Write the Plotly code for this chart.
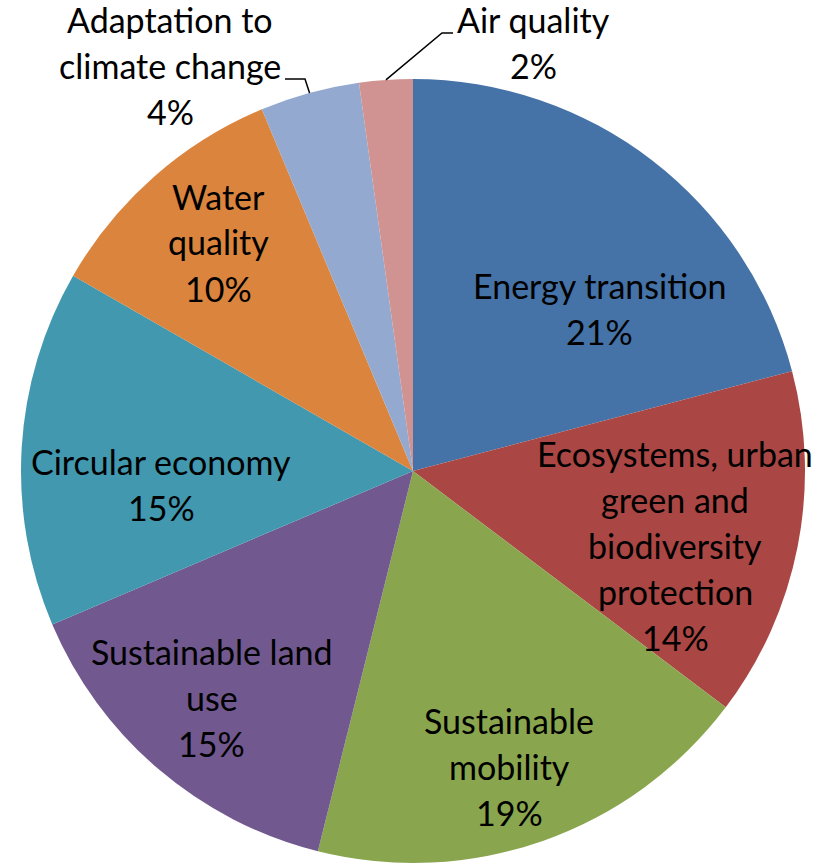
import math
import plotly.graph_objects as go

# ---------------- data ----------------
categories = ["Energy transition", "Ecosystems, urban green and biodiversity protection",
              "Sustainable mobility", "Sustainable land use", "Circular economy",
              "Water quality", "Adaptation to climate change", "Air quality"]
values = [20.9, 14.4, 18.6, 14.7, 14.7, 10.4, 4.1, 2.2]
label_lines = [["Energy transition"],
               ["Ecosystems, urban", "green and", "biodiversity", "protection"],
               ["Sustainable", "mobility"],
               ["Sustainable land", "use"],
               ["Circular economy"],
               ["Water", "quality"],
               ["Adaptation to", "climate change"],
               ["Air quality"]]

# ---------------- styles / layout ----------------
colors = ["#4572A7", "#AA4643", "#89A54E", "#71588F", "#4198AF", "#DB843D", "#93A9CF", "#D19392"]
W, H = 821, 865
CX, CY, R = 413, 471, 392          # pie centre / radius in px
FONT = "Lato"
FSIZE = 34
LINE = 46
# label block anchor (centre x, centre y of first line) in px
label_pos = [(599, 285), (675, 453), (509, 720), (212, 651), (161, 461),
             (218, 196), (170, 20), (533, 20)]
# outside labels: leader elbow points (px)
leaders = {6: [(285, 79), (305, 79)], 7: [(453, 33), (442, 33)]}

fig = go.Figure(go.Pie(
    labels=categories, values=values, sort=False, direction="clockwise", rotation=0,
    marker=dict(colors=colors, line=dict(width=0)),
    textinfo="none", hoverinfo="label+percent", showlegend=False,
    domain=dict(x=[(CX - R) / W, (CX + R) / W], y=[(H - CY - R) / H, (H - CY + R) / H]),
))

total = sum(values)
annotations = []
for i, (lines, (lx, ly)) in enumerate(zip(label_lines, label_pos)):
    pct = f"{round(values[i] / total * 100)}%"
    for j, t in enumerate(lines + [pct]):
        annotations.append(dict(
            x=lx / W, y=1 - (ly + j * LINE) / H, xref="paper", yref="paper",
            text=t, showarrow=False, xanchor="center", yanchor="middle",
            font=dict(family=FONT, size=FSIZE, color="#000000")))

shapes = []
cum = 0.0
for i, v in enumerate(values):
    mid = (cum + v / 2) / total * 2 * math.pi
    cum += v
    if i in leaders:
        px = CX + R * math.sin(mid)
        py = CY - R * math.cos(mid)
        pts = leaders[i] + [(px, py)]
        path = "M " + " L ".join(f"{x / W},{1 - y / H}" for x, y in pts)
        shapes.append(dict(type="path", xref="paper", yref="paper", path=path,
                           line=dict(color="#000000", width=1.5)))

fig.update_layout(width=W, height=H, margin=dict(l=0, r=0, t=0, b=0),
                  paper_bgcolor="white", plot_bgcolor="white",
                  annotations=annotations, shapes=shapes)
fig.write_html("out.html", config={"displayModeBar": False},
               post_script="document.body.style.margin='0';document.body.style.overflow='hidden';")
